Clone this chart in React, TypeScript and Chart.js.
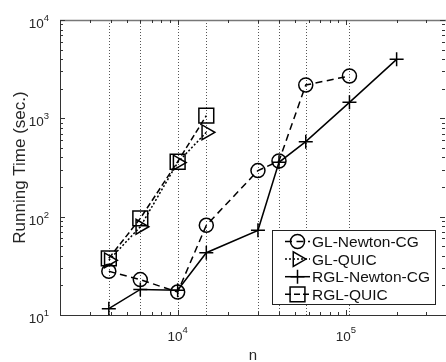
import React, { useEffect, useRef } from 'react';
import { Chart, registerables } from 'chart.js';

Chart.register(...registerables);

// ---- data ----
const glNewtonN = [3900, 6000, 10000, 14800, 30000, 40000, 57700, 104900];
const glNewtonTime = [27.8, 22.9, 17.1, 81.7, 294, 368, 2183, 2695];
const glQuicN = [3900, 6000, 10000, 14800];
const glQuicTime = [36, 79, 355, 721];
const rglNewtonN = [3900, 6000, 10000, 14800, 30000, 40000, 57700, 104900, 200000];
const rglNewtonTime = [11.6, 18.2, 17.9, 43, 72.6, 357, 579, 1455, 3981];
const rglQuicN = [3900, 6000, 10000, 14800];
const rglQuicTime = [37.7, 96, 362, 1064];
const seriesNames = ['GL-Newton-CG', 'GL-QUIC', 'RGL-Newton-CG', 'RGL-QUIC'];
const gridN = glNewtonN;
const xTickExponents = [4, 5];
const yTickExponents = [1, 2, 3, 4];
const xRange = [2000, 393000];
const yRange = [10, 10000];
const xTitle = 'n';
const yTitle = 'Running Time (sec.)';

const FONT = '"Liberation Sans", Arial, Helvetica, sans-serif';
const INK = '#000';

const toPts = (xs: number[], ys: number[]) => xs.map((x, i) => ({ x, y: ys[i] }));

const markerDefs = [
  { style: 'circle', radius: 7, rotation: 0, dash: [7, 4.5] },
  { style: 'triangle', radius: 8.5, rotation: 90, dash: [2, 2] },
  { style: 'cross', radius: 7, rotation: 0, dash: [] as number[] },
  { style: 'rect', radius: 10.5, rotation: 0, dash: [6, 3] },
];

function drawMarker(ctx: CanvasRenderingContext2D, style: string, x: number, y: number, r: number) {
  ctx.beginPath();
  if (style === 'circle') {
    ctx.arc(x, y, r, 0, Math.PI * 2);
  } else if (style === 'triangle') {
    ctx.moveTo(x + r, y);
    ctx.lineTo(x - r / 2, y - 0.866 * r);
    ctx.lineTo(x - r / 2, y + 0.866 * r);
    ctx.closePath();
  } else if (style === 'cross') {
    ctx.moveTo(x - r, y);
    ctx.lineTo(x + r, y);
    ctx.moveTo(x, y - r);
    ctx.lineTo(x, y + r);
  } else {
    const h = r * Math.SQRT1_2;
    ctx.rect(x - h, y - h, 2 * h, 2 * h);
  }
  ctx.stroke();
}

function drawPow(ctx: CanvasRenderingContext2D, exp: number, x: number, baseY: number, supY: number, align: 'right' | 'center') {
  ctx.font = `13.5px ${FONT}`;
  const w10 = ctx.measureText('10').width;
  ctx.font = `9.5px ${FONT}`;
  const we = ctx.measureText(String(exp)).width;
  const total = w10 + we;
  const start = align === 'right' ? x - total : x - total / 2;
  ctx.textAlign = 'left';
  ctx.textBaseline = 'alphabetic';
  ctx.font = `13.5px ${FONT}`;
  ctx.fillText('10', start, baseY);
  ctx.font = `9.5px ${FONT}`;
  ctx.fillText(String(exp), start + w10, supY);
}

const matlabAxes = {
  id: 'matlabAxes',
  beforeDatasetsDraw(chart: any) {
    const { ctx, chartArea: a, scales } = chart;
    ctx.save();
    ctx.strokeStyle = '#555';
    ctx.lineWidth = 1;
    ctx.setLineDash([1, 2]);
    for (const v of gridN) {
      const px = Math.round(scales.x.getPixelForValue(v)) + 0.5;
      ctx.beginPath();
      ctx.moveTo(px, a.top);
      ctx.lineTo(px, a.bottom);
      ctx.stroke();
    }
    ctx.restore();
  },
  afterDatasetsDraw(chart: any) {
    const { ctx, chartArea: a, scales } = chart;
    const xs = scales.x;
    const ys = scales.y;
    ctx.save();
    ctx.setLineDash([]);
    // box
    ctx.strokeStyle = '#333';
    ctx.lineWidth = 1;
    ctx.beginPath();
    ctx.moveTo(a.left + 0.5, a.top);
    ctx.lineTo(a.left + 0.5, a.bottom + 0.5);
    ctx.lineTo(a.right, a.bottom + 0.5);
    ctx.stroke();
    ctx.strokeStyle = '#777';
    ctx.lineWidth = 1.5;
    ctx.beginPath();
    ctx.moveTo(a.left, a.top + 0.5);
    ctx.lineTo(a.right, a.top + 0.5);
    ctx.stroke();
    // ticks
    ctx.strokeStyle = '#333';
    ctx.lineWidth = 1;
    for (let d = 3; d <= 5; d++) {
      for (let k = 1; k <= 9; k++) {
        const v = k * Math.pow(10, d);
        if (v < xRange[0] || v > xRange[1]) continue;
        const px = Math.round(xs.getPixelForValue(v)) + 0.5;
        const len = k === 1 ? 5 : 3;
        ctx.beginPath();
        ctx.moveTo(px, a.bottom);
        ctx.lineTo(px, a.bottom - len);
        ctx.moveTo(px, a.top);
        ctx.lineTo(px, a.top + len);
        ctx.stroke();
      }
    }
    for (let d = 1; d <= 4; d++) {
      for (let k = 1; k <= 9; k++) {
        const v = k * Math.pow(10, d);
        if (v < yRange[0] || v > yRange[1]) continue;
        const py = Math.round(ys.getPixelForValue(v)) + 0.5;
        const len = k === 1 ? 5 : 3;
        ctx.beginPath();
        ctx.moveTo(a.left, py);
        ctx.lineTo(a.left + len, py);
        ctx.moveTo(a.right - 1, py);
        ctx.lineTo(a.right - 1 - len, py);
        ctx.stroke();
      }
    }
    // tick labels
    ctx.fillStyle = '#262626';
    for (const e of yTickExponents) {
      const py = ys.getPixelForValue(Math.pow(10, e));
      drawPow(ctx, e, a.left - 11, py + 8, py + 1, 'right');
    }
    for (const e of xTickExponents) {
      const px = xs.getPixelForValue(Math.pow(10, e));
      drawPow(ctx, e, px, a.bottom + 26, a.bottom + 17.5, 'center');
    }
    // axis titles
    ctx.fillStyle = '#262626';
    ctx.font = `15px ${FONT}`;
    ctx.textAlign = 'center';
    ctx.textBaseline = 'alphabetic';
    ctx.fillText(xTitle, (a.left + a.right) / 2, 360);
    ctx.save();
    ctx.font = `17px ${FONT}`;
    ctx.translate(24.5, (a.top + a.bottom) / 2);
    ctx.rotate(-Math.PI / 2);
    ctx.fillText(yTitle, 0, 0);
    ctx.restore();
    ctx.restore();
  },
  afterDraw(chart: any) {
    const { ctx } = chart;
    ctx.save();
    ctx.fillStyle = '#fff';
    ctx.fillRect(272.5, 230.5, 163, 74);
    ctx.strokeStyle = '#222';
    ctx.lineWidth = 1;
    ctx.setLineDash([]);
    ctx.strokeRect(272.5, 230.5, 163, 74);
    chart.data.datasets.forEach((ds: any, i: number) => {
      const y = 241.5 + i * 17.6;
      const m = markerDefs[i];
      ctx.strokeStyle = INK;
      ctx.lineWidth = 1.5;
      ctx.setLineDash(m.dash);
      ctx.beginPath();
      ctx.moveTo(285, y);
      ctx.lineTo(310, y);
      ctx.stroke();
      ctx.setLineDash([]);
      drawMarker(ctx, m.style, 297.5, y, m.radius);
      ctx.fillStyle = '#111';
      ctx.font = `15.5px ${FONT}`;
      ctx.textAlign = 'left';
      ctx.textBaseline = 'alphabetic';
      ctx.fillText(ds.label, 312, y + 5.5);
    });
    ctx.restore();
  },
};

export default function App() {
  const ref = useRef<HTMLCanvasElement | null>(null);
  useEffect(() => {
    document.body.style.margin = '0';
    const canvas = ref.current;
    if (!canvas) return;
    const series = [
      toPts(glNewtonN, glNewtonTime),
      toPts(glQuicN, glQuicTime),
      toPts(rglNewtonN, rglNewtonTime),
      toPts(rglQuicN, rglQuicTime),
    ];
    const chart = new Chart(canvas, {
      type: 'line',
      data: {
        datasets: series.map((data, i) => ({
          label: seriesNames[i],
          data,
          borderColor: INK,
          borderWidth: 1.5,
          borderDash: markerDefs[i].dash,
          pointStyle: markerDefs[i].style as any,
          pointRadius: markerDefs[i].radius,
          pointHoverRadius: markerDefs[i].radius,
          pointRotation: markerDefs[i].rotation,
          pointBorderWidth: 1.5,
          pointBorderColor: INK,
          pointBackgroundColor: 'rgba(0,0,0,0)',
          fill: false,
          tension: 0,
          clip: false as any,
        })),
      },
      options: {
        responsive: false,
        animation: false,
        events: [],
        devicePixelRatio: 1,
        layout: { autoPadding: false, padding: { left: 60, top: 20, right: 0, bottom: 47 } },
        plugins: { legend: { display: false }, tooltip: { enabled: false }, title: { display: false } },
        scales: {
          x: { type: 'logarithmic', min: xRange[0], max: xRange[1], display: false },
          y: { type: 'logarithmic', min: yRange[0], max: yRange[1], display: false },
        },
      },
      plugins: [matlabAxes],
    });
    return () => chart.destroy();
  }, []);
  return (
    <div style={{ width: 446, height: 362, background: '#fff' }}>
      <canvas ref={ref} width={446} height={362} style={{ display: 'block' }} />
    </div>
  );
}
